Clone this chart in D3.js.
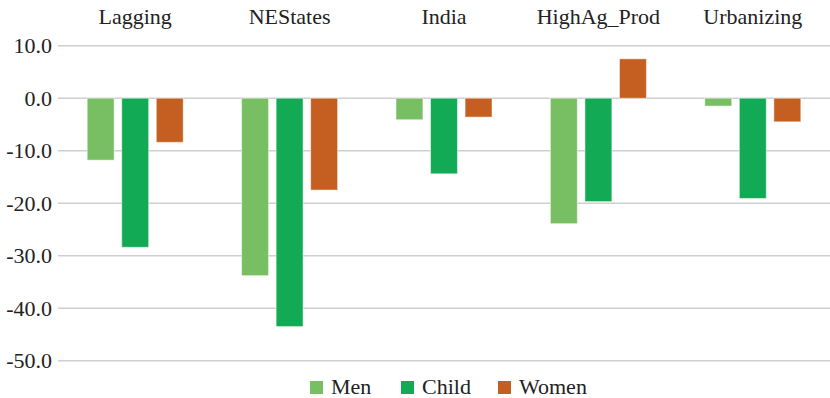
<!DOCTYPE html>
<html>
<head>
<meta charset="utf-8">
<script src="https://cdn.jsdelivr.net/npm/d3@7"></script>
<style>
  body { margin: 0; background: #fff; }
</style>
</head>
<body>
<script>
var width = 830;
var height = 398;

var categories = ["Lagging", "NEStates", "India", "HighAg_Prod", "Urbanizing"];
var seriesNames = ["Men", "Child", "Women"];
var men = [-11.8, -33.8, -4.1, -23.9, -1.5];
var child = [-28.4, -43.5, -14.4, -19.7, -19.1];
var women = [-8.4, -17.5, -3.6, 7.5, -4.5];
var yTicks = [10, 0, -10, -20, -30, -40, -50];
var colors = ["#78bf63", "#12aa55", "#c55e21"];

var seriesValues = [men, child, women];
var data = categories.map(function (c, i) {
    return {
        cat: c,
        vals: seriesNames.map(function (s, j) { return {name: s, value: seriesValues[j][i], idx: j}; })
    };
});

var plotLeft = 58, plotRight = 830, plotTop = 45.7, plotBottom = 360.7;
var fontSize = 22;
var fontFamily = "Liberation Serif";

var svg = d3.select("body").append("svg")
    .attr("width", width)
    .attr("height", height);

var y = d3.scaleLinear().domain([10, -50]).range([plotTop, plotBottom]);
var x0 = d3.scaleBand().domain(categories).range([plotLeft, plotRight]).padding(0);
var x1 = d3.scaleBand().domain(seriesNames).range([0, x0.bandwidth()])
    .paddingInner(0.22).paddingOuter(0.845);

// gridlines
svg.append("g").selectAll("line").data(yTicks).enter().append("line")
    .attr("x1", plotLeft)
    .attr("x2", plotRight)
    .attr("y1", function (d) { return y(d); })
    .attr("y2", function (d) { return y(d); })
    .style("stroke", "#cfcfcf")
    .style("stroke-width", 1.5);

// y tick labels (plain hyphen for minus like the original)
svg.append("g").selectAll("text").data(yTicks).enter().append("text")
    .attr("x", 52)
    .attr("y", function (d) { return y(d); })
    .attr("dy", "0.35em")
    .attr("text-anchor", "end")
    .attr("font-family", fontFamily)
    .attr("font-size", fontSize)
    .attr("fill", "#222")
    .text(function (d) { return (d < 0 ? "-" : "") + Math.abs(d).toFixed(1); });

// category labels on top
svg.append("g").selectAll("text").data(categories).enter().append("text")
    .attr("x", function (d) { return x0(d) + x0.bandwidth() / 2; })
    .attr("y", 24)
    .attr("text-anchor", "middle")
    .attr("font-family", fontFamily)
    .attr("font-size", fontSize)
    .attr("fill", "#222")
    .text(function (d) { return d; });

// bars
var groups = svg.append("g").selectAll("g").data(data).enter().append("g")
    .attr("transform", function (d) { return "translate(" + x0(d.cat) + ",0)"; });

groups.selectAll("rect").data(function (d) { return d.vals; }).enter().append("rect")
    .attr("x", function (d) { return x1(d.name); })
    .attr("width", x1.bandwidth())
    .attr("y", function (d) { return y(Math.max(0, d.value)); })
    .attr("height", function (d) { return Math.abs(y(d.value) - y(0)); })
    .style("fill", function (d) { return colors[d.idx]; })
    .style("stroke", "rgba(255,255,255,0.5)")
    .style("stroke-width", 1);

// legend
var legendX = [310, 401, 498];
var legend = svg.append("g").selectAll("g").data(seriesNames).enter().append("g")
    .attr("transform", function (d, i) { return "translate(" + legendX[i] + ",381)"; });

legend.append("rect")
    .attr("width", 13)
    .attr("height", 13)
    .style("fill", function (d, i) { return colors[i]; });

legend.append("text")
    .attr("x", 21)
    .attr("y", 12.5)
    .attr("font-family", fontFamily)
    .attr("font-size", fontSize)
    .attr("fill", "#222")
    .text(function (d) { return d; });
</script>
</body>
</html>
